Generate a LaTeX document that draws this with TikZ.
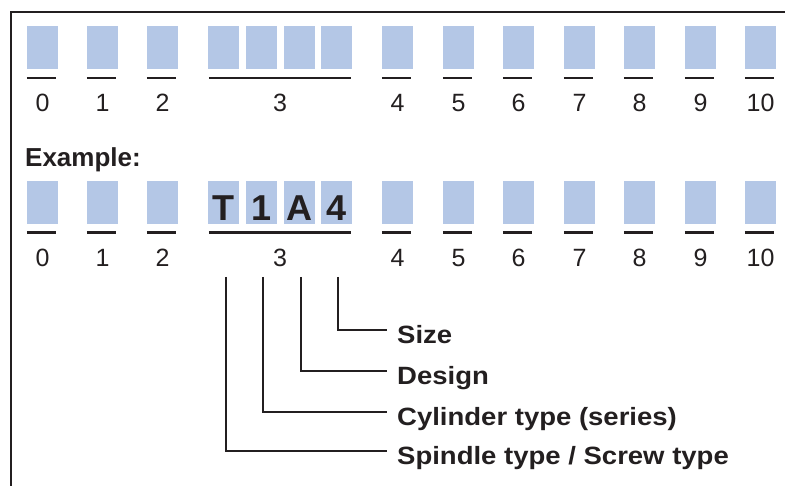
\documentclass[tikz,border=0pt]{standalone}
\usepackage{fontspec}
\setmainfont{Liberation Sans}
\newfontfamily\widefont[FakeStretch=1.1]{Liberation Sans}
\definecolor{slot}{RGB}{180,199,230}
\definecolor{ink}{RGB}{35,31,32}

\begin{document}
\begin{tikzpicture}[x=1pt,y=-1pt,
	cell/.style={fill=slot, minimum width=31pt, minimum height=43pt, inner sep=0pt},
	num/.style={anchor=base, inner sep=0pt, text=ink, font=\fontsize{25}{30}\selectfont},
	bar/.style={ink, line width=2.5pt},
	lead/.style={ink, line width=1.8pt},
	lbl/.style={anchor=west, inner sep=0pt, text height=27pt, text depth=0pt, text=ink, font=\widefont\bfseries\fontsize{25}{30}\selectfont}]
	\useasboundingbox (0,0) rectangle (785,486);
	\draw[ink, line width=2.2pt] (11,486) -- (11,12) -- (785,12);
	% single positions, both rows
	\foreach \n/\x in {0/42.5, 1/102.5, 2/162.5, 4/397.5, 5/458.5, 6/518.5, 7/579.5, 8/639.5, 9/700.5, 10/760.5}{
		\node[cell] (a\n) at (\x,47.5) {};
		\draw[bar] ([yshift=-9pt]a\n.south west) -- ([yshift=-9pt,xshift=-2pt]a\n.south east);
		\node[num] (na\n) at (\x,112) {\n};
		\node[cell] (b\n) at (\x,202.5) {};
		\draw[bar] ([yshift=-8.5pt]b\n.south west) -- ([yshift=-8.5pt,xshift=-2pt]b\n.south east);
		\node[num] (nb\n) at (\x,267) {\n};
	}
	% position 3, four cells
	\foreach \k/\x in {1/223.5, 2/261.5, 3/299.5, 4/336.5}{
		\node[cell] (a3\k) at (\x,47.5) {};
		\node[cell] (b3\k) at (\x,202.5) {};
	}
	\draw[bar] ([yshift=-9pt,xshift=1pt]a31.south west) -- ([yshift=-9pt,xshift=-1pt]a34.south east);
	\draw[bar] ([yshift=-8.5pt,xshift=1pt]b31.south west) -- ([yshift=-8.5pt,xshift=-1pt]b34.south east);
	\node[num] (na3) at (280,112) {3};
	\node[num] (nb3) at (280,267) {3};

	\node[anchor=base west, inner sep=0pt, text=ink, font=\bfseries\fontsize{26}{30}\selectfont] (ex) at (25,167) {Example:};
	% code letters
	\foreach \k/\c in {1/T, 2/1, 3/A, 4/4}{
		\node[anchor=base, inner sep=0pt, text=ink, font=\bfseries\fontsize{36}{40}\selectfont] (c\k) at ([yshift=4pt]b3\k.south) {\c};
	}

	% leaders
	\coordinate (p1) at (226,277);
	\coordinate (p2) at (263,277);
	\coordinate (p3) at (301,277);
	\coordinate (p4) at (338,277);
	\node[lbl] (size) at (397,330) {Size};
	\node[lbl] (design) at (397,371) {Design};
	\node[lbl] (cyl) at (397,412) {Cylinder type (series)};
	\node[lbl] (spindle) at (397,451) {Spindle type / Screw type};
	\draw[lead, shorten >=10pt] (p4) |- (size);
	\draw[lead, shorten >=10pt] (p3) |- (design);
	\draw[lead, shorten >=10pt] (p2) |- (cyl);
	\draw[lead, shorten >=10pt] (p1) |- (spindle);
\end{tikzpicture}
\end{document}
